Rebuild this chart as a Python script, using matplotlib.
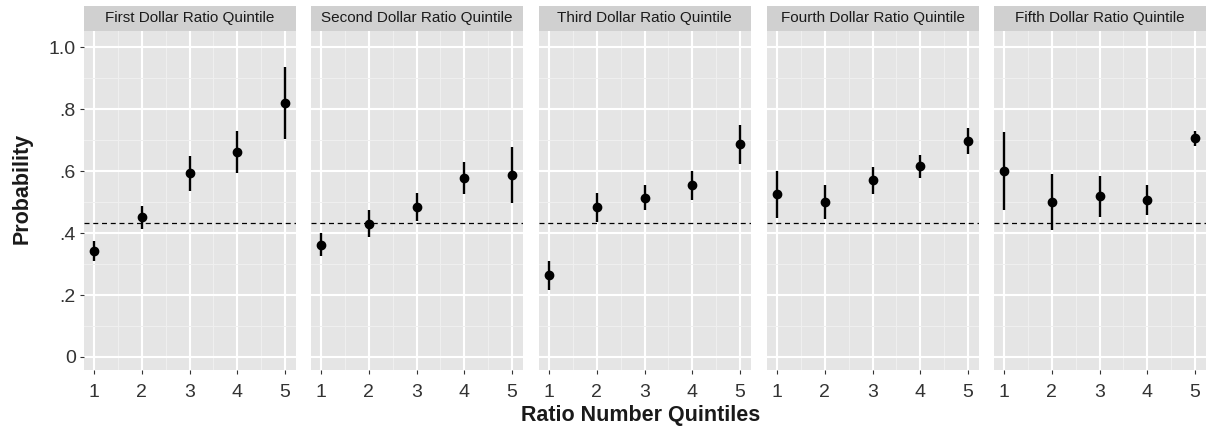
import numpy as np
import matplotlib.pyplot as plt

plt.rcParams['font.family'] = ['Liberation Sans', 'DejaVu Sans']

# data
panels = ['First Dollar Ratio Quintile', 'Second Dollar Ratio Quintile',
          'Third Dollar Ratio Quintile', 'Fourth Dollar Ratio Quintile',
          'Fifth Dollar Ratio Quintile']
quintiles = [1, 2, 3, 4, 5]
prob = [
    [0.343, 0.452, 0.594, 0.661, 0.819],
    [0.361, 0.430, 0.484, 0.577, 0.587],
    [0.265, 0.484, 0.513, 0.555, 0.687],
    [0.526, 0.500, 0.571, 0.616, 0.697],
    [0.600, 0.500, 0.519, 0.506, 0.706],
]
lower = [
    [0.310, 0.414, 0.536, 0.594, 0.703],
    [0.325, 0.387, 0.438, 0.527, 0.496],
    [0.217, 0.435, 0.473, 0.507, 0.624],
    [0.447, 0.445, 0.526, 0.577, 0.654],
    [0.474, 0.410, 0.452, 0.457, 0.681],
]
upper = [
    [0.375, 0.488, 0.649, 0.728, 0.935],
    [0.400, 0.474, 0.529, 0.629, 0.677],
    [0.309, 0.529, 0.554, 0.600, 0.748],
    [0.601, 0.556, 0.614, 0.652, 0.740],
    [0.727, 0.592, 0.585, 0.555, 0.728],
]
baseline = 0.432
yticks = [0, 0.2, 0.4, 0.6, 0.8, 1.0]
yticklabels = ['0', '.2', '.4', '.6', '.8', '1.0']

W, H = 1208, 429
fig = plt.figure(figsize=(W / 100, H / 100), dpi=100)

lefts = [84, 311, 539, 767, 994]
pw = 211.5
top, bottom, strip_top = 30.7, 370, 6

for i, name in enumerate(panels):
    ax = fig.add_axes([lefts[i] / W, (H - bottom) / H, pw / W, (bottom - top) / H])
    ax.set_facecolor('#E5E5E5')
    for s in ax.spines.values():
        s.set_visible(False)
    ax.set_xlim(0.79, 5.22)
    ax.set_ylim(-0.042, 1.053)
    ax.set_xticks(quintiles)
    ax.set_xticks([1.5, 2.5, 3.5, 4.5], minor=True)
    ax.set_yticks(yticks)
    ax.set_yticks([0.1, 0.3, 0.5, 0.7, 0.9], minor=True)
    ax.grid(which='major', color='white', lw=1.5)
    ax.grid(which='minor', color='#F0F0F0', lw=0.7)
    ax.set_axisbelow(True)
    ax.tick_params(which='minor', length=0)
    ax.tick_params(axis='x', length=3, color='#333333', labelsize=14,
                   labelcolor='#333333', pad=7)
    if i == 0:
        ax.set_yticklabels(yticklabels)
        ax.tick_params(axis='y', length=3, color='#333333', labelsize=14,
                       labelcolor='#333333', pad=3)
    else:
        ax.tick_params(axis='y', length=0, labelleft=False)

    ax.axhline(baseline, color='black', lw=0.9, ls=(0, (4, 3)), zorder=2)
    y = np.array(prob[i])
    ax.vlines(quintiles, lower[i], upper[i], color='black', lw=1.7, zorder=3)
    ax.plot(quintiles, y, 'o', color='black', ms=6, zorder=4)

    sax = fig.add_axes([lefts[i] / W, (H - top) / H, pw / W, (top - strip_top) / H])
    sax.set_facecolor('#D0D0D0')
    sax.set_xticks([])
    sax.set_yticks([])
    for s in sax.spines.values():
        s.set_visible(False)
    sax.text(0.5, 0.5, name, ha='center', va='center', fontsize=11,
             color='#1A1A1A', transform=sax.transAxes)

fig.text(21.7 / W, 1 - 188 / H, 'Probability', rotation=90, ha='center',
         va='center', fontsize=15.5, fontweight='bold', color='#1A1A1A')
fig.text(641 / W, 1 - 415 / H, 'Ratio Number Quintiles',
         ha='center', va='center', fontsize=15.5, fontweight='bold', color='#1A1A1A')

fig.savefig('out.png', dpi=100)
